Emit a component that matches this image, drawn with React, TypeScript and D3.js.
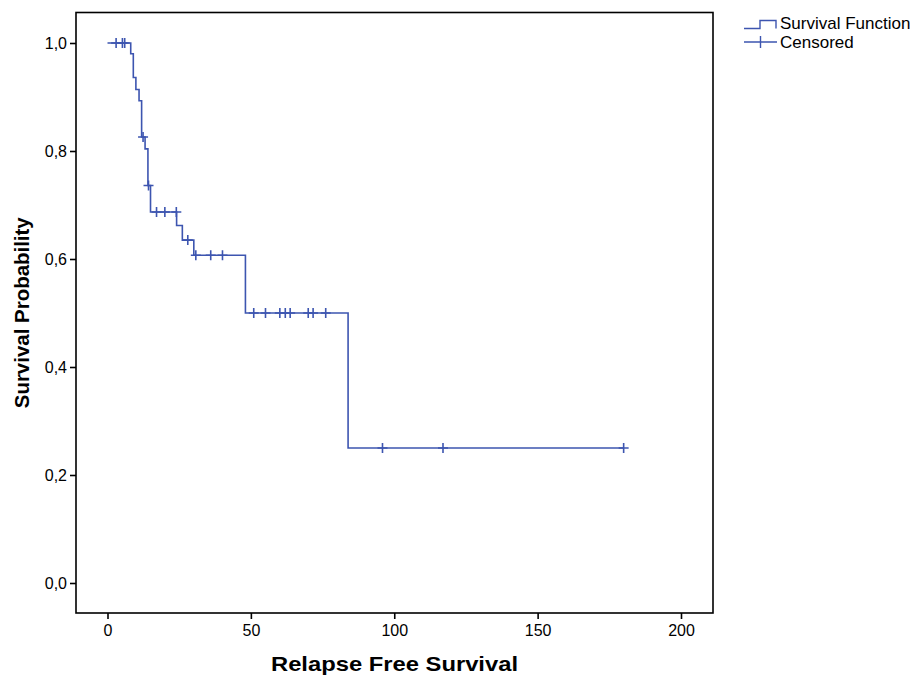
import React, { useEffect, useRef } from 'react';
import * as d3 from 'd3';

// step points of the survival curve: [time, survival after the drop]
const stepTimes = [0, 8.1, 9.0, 9.9, 11.0, 11.9, 13.1, 14.1, 15.0, 24.1, 26.1, 30.1, 48.1, 83.9];
const stepSurvival = [1.0, 0.98, 0.936, 0.914, 0.893, 0.826, 0.804, 0.736, 0.687, 0.662, 0.635, 0.607, 0.5, 0.25];
const endTime = 180;

// censored observations
const censoredTimes = [3, 5.2, 6, 12.4, 14.3, 17.1, 20, 24, 28, 30.8, 36, 40.1, 51, 55.1, 60.1, 62, 63.7, 70, 71.7, 76.1, 95.9, 117, 180];

const xTicks = [0, 50, 100, 150, 200];
const yTicks = [0, 0.2, 0.4, 0.6, 0.8, 1.0];

const legendLabels = ['Survival Function', 'Censored'];

const W = 915;
const H = 682;
const BLUE = '#3d55b0';
const FONT = '"Liberation Sans", Arial, sans-serif';

const survivalAt = (t: number) => {
  let s = stepSurvival[0];
  stepTimes.forEach((st, i) => {
    if (st <= t) s = stepSurvival[i];
  });
  return s;
};

const App = () => {
  const ref = useRef<SVGSVGElement>(null);

  useEffect(() => {
    const svg = d3.select(ref.current);
    svg.selectAll('*').remove();

    const box = { left: 76, right: 713, top: 12.5, bottom: 613 };
    const x = d3.scaleLinear().domain([0, 200]).range([107.5, 681]);
    const y = d3.scaleLinear().domain([0, 1]).range([583, 43]);

    // frame
    svg
      .append('rect')
      .attr('x', box.left)
      .attr('y', box.top)
      .attr('width', box.right - box.left)
      .attr('height', box.bottom - box.top)
      .attr('fill', 'none')
      .attr('stroke', '#000')
      .attr('stroke-width', 1.6);

    // x axis
    const xAxis = svg.append('g').attr('transform', `translate(0,${box.bottom})`);
    xAxis
      .call(d3.axisBottom(x).tickValues(xTicks).tickSize(6).tickSizeOuter(0).tickPadding(6))
      .call((g) => g.select('.domain').remove());
    xAxis.selectAll('line').attr('stroke', '#000').attr('stroke-width', 1.6);
    xAxis.selectAll('text').attr('font-family', FONT).attr('font-size', 16).attr('fill', '#000');

    // y axis
    const yAxis = svg.append('g').attr('transform', `translate(${box.left},0)`);
    yAxis
      .call(
        d3
          .axisLeft(y)
          .tickValues(yTicks)
          .tickSize(6)
          .tickSizeOuter(0)
          .tickPadding(3)
          .tickFormat((d) => d3.format('.1f')(d as number).replace('.', ','))
      )
      .call((g) => g.select('.domain').remove());
    yAxis.selectAll('line').attr('stroke', '#000').attr('stroke-width', 1.6);
    yAxis.selectAll('text').attr('font-family', FONT).attr('font-size', 16).attr('fill', '#000');

    // axis titles
    svg
      .append('text')
      .attr('x', (box.left + box.right) / 2)
      .attr('y', 671)
      .attr('text-anchor', 'middle')
      .attr('font-family', FONT)
      .attr('font-weight', 'bold')
      .attr('font-size', 21)
      .attr('textLength', 247)
      .attr('lengthAdjust', 'spacingAndGlyphs')
      .text('Relapse Free Survival');

    svg
      .append('text')
      .attr('transform', `translate(29,${(box.top + box.bottom) / 2}) rotate(-90)`)
      .attr('text-anchor', 'middle')
      .attr('font-family', FONT)
      .attr('font-weight', 'bold')
      .attr('font-size', 20.5)
      .attr('textLength', 191)
      .attr('lengthAdjust', 'spacingAndGlyphs')
      .text('Survival Probability');

    // survival step line
    const pts: [number, number][] = stepTimes.map((t, i) => [t, stepSurvival[i]]);
    pts.push([endTime, stepSurvival[stepSurvival.length - 1]]);
    const line = d3
      .line<[number, number]>()
      .x((d) => x(d[0]))
      .y((d) => y(d[1]))
      .curve(d3.curveStepAfter);

    svg
      .append('path')
      .attr('d', line(pts))
      .attr('fill', 'none')
      .attr('stroke', BLUE)
      .attr('stroke-width', 1.6);

    // censored marks
    svg
      .selectAll('path.censor')
      .data(censoredTimes)
      .enter()
      .append('path')
      .attr('class', 'censor')
      .attr('d', (d) => {
        const cx = x(d);
        const cy = y(survivalAt(d));
        return `M${cx},${cy - 5}V${cy + 5}M${cx - 5},${cy}H${cx + 5}`;
      })
      .attr('fill', 'none')
      .attr('stroke', BLUE)
      .attr('stroke-width', 1.6);

    // legend
    const lg = svg.append('g');
    lg.append('path')
      .attr('d', 'M744,28.5H760V20.5H776V28.5')
      .attr('fill', 'none')
      .attr('stroke', BLUE)
      .attr('stroke-width', 1.4);
    lg.append('path')
      .attr('d', 'M744,42H777M760.5,36V48')
      .attr('fill', 'none')
      .attr('stroke', BLUE)
      .attr('stroke-width', 1.4);
    lg.selectAll('text')
      .data(legendLabels)
      .enter()
      .append('text')
      .attr('x', 780)
      .attr('y', (d, i) => 28.5 + i * 19.5)
      .attr('font-family', FONT)
      .attr('font-size', 17)
      .attr('fill', '#000')
      .text((d) => d);
  }, []);

  return (
    <div style={{ position: 'absolute', left: 0, top: 0, width: W, height: H, background: '#fff' }}>
      <svg ref={ref} width={W} height={H} style={{ display: 'block' }} />
    </div>
  );
};

export default App;
